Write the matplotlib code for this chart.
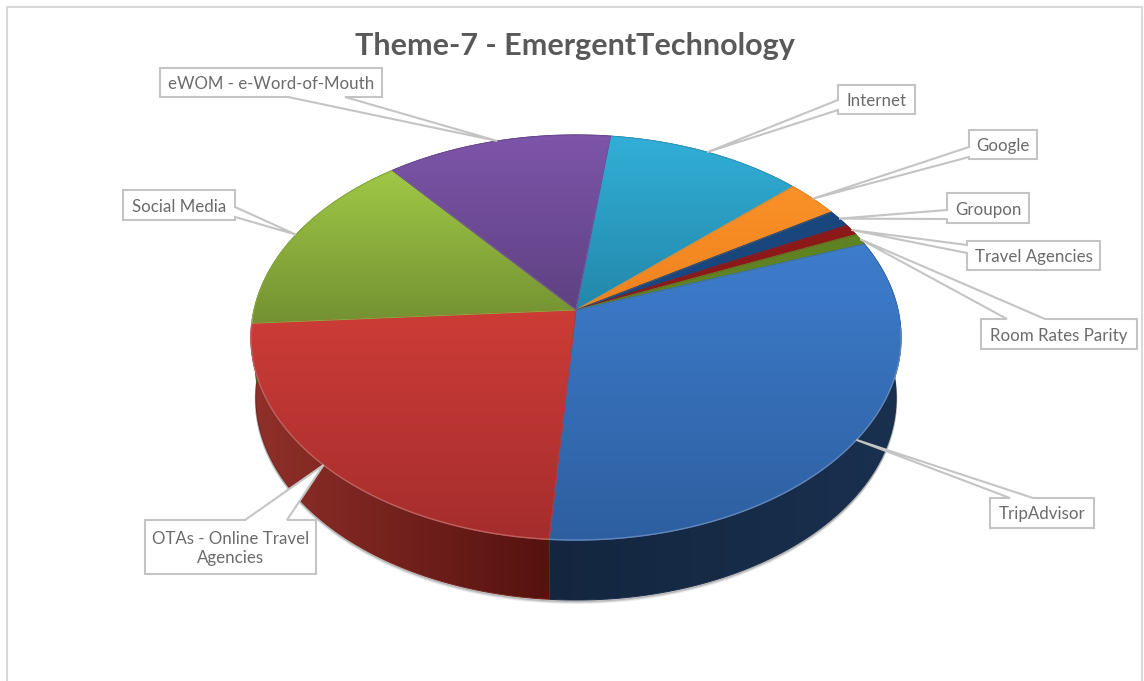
#!/usr/bin/env python3
"""Draw the Theme-7 share chart as a tilted 3D-style pie and save out.png."""
from __future__ import annotations

import numpy as np
import matplotlib
matplotlib.use("Agg")
import matplotlib.pyplot as plt
from matplotlib.patches import PathPatch, Polygon, Rectangle
from matplotlib.path import Path

plt.rcParams["font.family"] = ["Lato", "DejaVu Sans"]

TITLE = "Theme-7 - EmergentTechnology"

# Slices run clockwise from START_ANGLE, shares in percent.
LABELS = [
    "Internet", "Google", "Groupon", "Travel Agencies", "Room Rates Parity",
    "TripAdvisor", "OTAs - Online Travel\nAgencies", "Social Media",
    "eWOM - e-Word-of-Mouth",
]
SHARES = [11.2, 3.0, 1.4, 0.9, 0.9, 31.8, 22.8, 15.2, 12.8]
START_ANGLE = 7.0

FACE_TOP = ["#32afd7", "#fa9128", "#19467d", "#8c1919", "#5f8223",
            "#3e7dcd", "#cd3c37", "#a0c846", "#7d55aa"]
FACE_BOTTOM = ["#2387aa", "#f0821e", "#19467d", "#8c1919", "#5f8223",
               "#2d5fa0", "#a52d2d", "#739132", "#5f4182"]
WALL_LEFT = ["#1a5a70", "#8a4a10", "#0e2a4a", "#4e1010", "#3a5015",
             "#14263f", "#91302a", "#4a5e20", "#3c2a55"]
WALL_RIGHT = ["#1a5a70", "#8a4a10", "#0e2a4a", "#4e1010", "#3a5015",
              "#19304f", "#55120f", "#4a5e20", "#3c2a55"]

# Label box as x0, y0, x1, y1, then the box side the callout leaves from
# and the two positions along that side.
BOXES = [
    (838, 85, 915, 114, "left", 100, 110),
    (969, 130, 1037, 159, "left", 147, 157),
    (947, 193, 1029, 223, "left", 210, 219),
    (967, 241, 1100, 270, "left", 245, 253),
    (981, 319, 1137, 349, "top", 1007, 1045),
    (990, 498, 1094, 528, "top", 1010, 1033),
    (145, 520, 316, 574, "top", 245, 287),
    (123, 190, 235, 220, "right", 207, 217),
    (160, 68, 382, 97, "bottom", 288, 345),
]

# Projection of the pie disc: apex position, size and perspective.
APEX_X, APEX_Y = 576.0, 310.0
SCALE_X, SCALE_Y = 322.0, 198.8
PERSPECTIVE = 0.1358
DEPTH = 60.0
# The lower rim sits further from the viewer, so it reads slightly narrower.
BOTTOM_SHRINK = 0.985


def project(angle_deg, radius=1.0):
    """Map clockwise-from-top angles on the disc to pixel positions."""
    a = np.radians(angle_deg)
    x = radius * np.sin(a)
    y = radius * np.cos(a)
    w = 1 + PERSPECTIVE * y
    return APEX_X + SCALE_X * x / w, APEX_Y - SCALE_Y * y / w


def lower_rim(x, y):
    return APEX_X + (x - APEX_X) * BOTTOM_SHRINK, y + DEPTH


def to_rgb(c):
    return np.array(matplotlib.colors.to_rgb(c))


def gradient_fill(ax, xs, ys, start, end, horizontal=False, zorder=2):
    """Fill a closed outline with a linear gradient clipped to it."""
    verts = np.column_stack([xs, ys])
    patch = PathPatch(Path(np.vstack([verts, verts[0]]), closed=True),
                      facecolor="none", edgecolor=(to_rgb(start) + to_rgb(end)) / 2,
                      lw=0.7, zorder=zorder + 0.1)
    ax.add_patch(patch)
    t = np.linspace(0, 1, 256)[:, None]
    img = to_rgb(start)[None, :] * (1 - t) + to_rgb(end)[None, :] * t
    img = img[None, :, :] if horizontal else img[:, None, :]
    im = ax.imshow(img, extent=(xs.min(), xs.max(), ys.max(), ys.min()),
                   aspect="auto", interpolation="bilinear", zorder=zorder)
    im.set_clip_path(patch)


def callout_outline(box, tip):
    """Box corners with the pointed callout spliced into one side."""
    x0, y0, x1, y1, side, a, b = box
    if side == "top":
        return [(x0, y0), (a, y0), tip, (b, y0), (x1, y0), (x1, y1), (x0, y1)]
    if side == "right":
        return [(x0, y0), (x1, y0), (x1, a), tip, (x1, b), (x1, y1), (x0, y1)]
    if side == "bottom":
        return [(x0, y0), (x1, y0), (x1, y1), (b, y1), tip, (a, y1), (x0, y1)]
    return [(x0, y0), (x1, y0), (x1, y1), (x0, y1), (x0, b), tip, (x0, a)]


def main() -> None:
    fig = plt.figure(figsize=(11.44, 6.81), dpi=100)
    ax = fig.add_axes([0, 0, 1, 1])
    ax.axis("off")

    # Chart frame
    ax.add_patch(Rectangle((7, 7), 1135, 700, facecolor="white",
                           edgecolor="#d9d9d9", lw=1.5, zorder=0))

    sweep = np.array(SHARES) / sum(SHARES) * 360
    starts = START_ANGLE + np.concatenate([[0], np.cumsum(sweep)[:-1]])

    # Soft shadow along the lower edge of the disc
    angles = np.linspace(85, 275, 300)
    shadow_x, shadow_y = lower_rim(*project(angles))
    for off, alpha in [(3.0, 0.10), (2.0, 0.18), (1.0, 0.3)]:
        ax.plot(shadow_x, shadow_y + off, color="#555555", alpha=alpha, lw=1.5, zorder=1)

    # Side walls first, the top faces then cover whatever sits behind them
    for i, (s, d) in enumerate(zip(starts, sweep)):
        arc = np.linspace(s, s + d, max(int(d * 3), 4))
        x, y = project(arc)
        bx, by = lower_rim(x, y)
        xs = np.concatenate([x, bx[::-1]])
        ys = np.concatenate([y, by[::-1]])
        gradient_fill(ax, xs, ys, WALL_LEFT[i], WALL_RIGHT[i], horizontal=True, zorder=2)

    for i, (s, d) in enumerate(zip(starts, sweep)):
        arc = np.linspace(s, s + d, max(int(d * 3), 4))
        x, y = project(arc)
        xs = np.concatenate([[APEX_X], x])
        ys = np.concatenate([[APEX_Y], y])
        gradient_fill(ax, xs, ys, FACE_TOP[i], FACE_BOTTOM[i], zorder=3)
        # Bevel highlight on the front rim
        front = (arc % 360 > 95) & (arc % 360 < 268)
        if front.any():
            rim = to_rgb(FACE_BOTTOM[i]) * 0.75 + 0.25
            ax.plot(x[front], y[front], color=rim, lw=1.0, zorder=4)

    # Title and the labels with their callouts
    ax.text(575, 46, TITLE, ha="center", va="center", fontsize=22, fontweight="bold",
            color="#595959", zorder=6)
    for i, label in enumerate(LABELS):
        tip = project(starts[i] + sweep[i] / 2)
        box = BOXES[i]
        ax.add_patch(Polygon(callout_outline(box, tip), closed=True, facecolor="white",
                             edgecolor="#c4c4c4", lw=1.5, joinstyle="miter", zorder=5))
        ax.text((box[0] + box[2]) / 2, (box[1] + box[3]) / 2 + 1.5, label, ha="center",
                va="center", fontsize=12.2, color="#6b6b6b", linespacing=1.3, zorder=6)

    ax.set_xlim(0, 1144)
    ax.set_ylim(681, 0)
    fig.savefig("out.png", dpi=100)
    plt.close(fig)


if __name__ == "__main__":
    main()
